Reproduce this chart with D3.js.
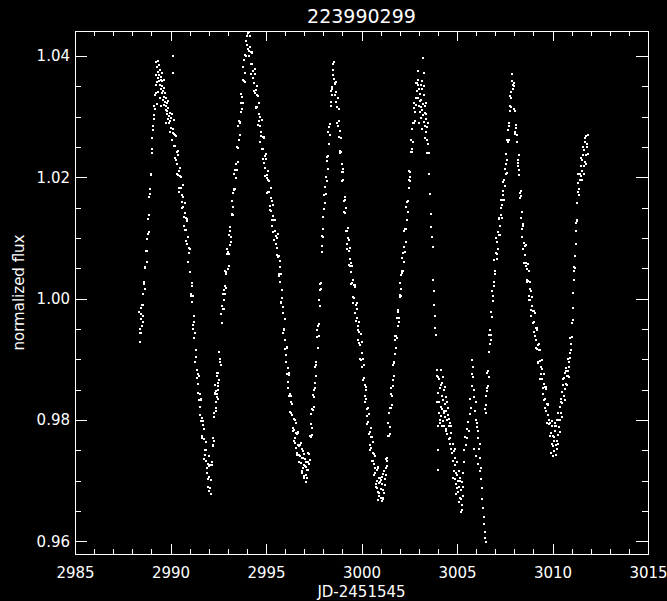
<!DOCTYPE html>
<html>
<head>
<meta charset="utf-8">
<script src="https://cdn.jsdelivr.net/npm/d3@7"></script>
<style>
  html, body { margin: 0; padding: 0; background: #000; }
  svg { display: block; }
</style>
</head>
<body>
<svg id="chart" width="667" height="601"></svg>
<script>
// Light curve of EPIC 223990299: [JD-2451545, normalized flux]
const cycle1 = [
  [2988.36,0.9978],[2988.38,0.9950],[2988.40,0.9943],[2988.42,0.9928],[2988.44,0.9966],[2988.46,0.9944],[2988.48,0.9975],[2988.50,0.9955],[2988.52,0.9989],[2988.54,0.9971],
  [2988.56,1.0008],[2988.58,0.9990],[2988.60,1.0024],[2988.63,1.0027],[2988.66,1.0052],[2988.69,1.0051],[2988.72,1.0078],[2988.75,1.0079],[2988.78,1.0099],[2988.81,1.0106],
  [2988.84,1.0131],[2988.87,1.0137],[2988.90,1.0168],[2988.93,1.0172],[2988.96,1.0203],[2988.99,1.0206],[2989.02,1.0240],[2989.05,1.0246],[2989.08,1.0278],[2989.10,1.0285],
  [2988.45,0.9985],[2988.55,0.9962],[2988.65,1.0015],[2988.75,1.0060],[2988.85,1.0110],[2988.95,1.0180],[2989.05,1.0265],
  [2989.12,1.0302],[2989.14,1.0318],[2989.16,1.0296],[2989.18,1.0335],[2989.20,1.0312],[2989.22,1.0352],[2989.24,1.0338],[2989.26,1.0368],[2989.28,1.0357],[2989.30,1.0381],
  [2989.32,1.0363],[2989.34,1.0392],[2989.36,1.0374],[2989.38,1.0359],[2989.40,1.0385],[2989.42,1.0368],[2989.44,1.0352],[2989.46,1.0377],[2989.48,1.0361],[2989.50,1.0345],
  [2989.52,1.0366],[2989.54,1.0351],[2989.56,1.0338],[2989.58,1.0359],[2989.60,1.0342],[2989.62,1.0328],[2989.64,1.0347],[2989.66,1.0333],[2989.68,1.0319],[2989.70,1.0338],
  [2989.72,1.0324],[2989.74,1.0311],[2989.76,1.0330],[2989.78,1.0317],[2989.80,1.0305],[2989.82,1.0322],[2989.84,1.0309],[2989.86,1.0296],[2989.88,1.0314],[2989.90,1.0301],
  [2989.93,1.0289],[2989.96,1.0306],[2989.99,1.0293],[2990.02,1.0281],[2990.05,1.0298],[2990.13,1.0400],[2990.14,1.0372],
  [2989.25,1.0390],[2989.33,1.0340],[2989.45,1.0330],[2989.55,1.0372],[2989.65,1.0360],[2989.75,1.0290],[2989.85,1.0325],[2989.95,1.0275],[2989.29,1.0320],[2989.51,1.0318],
  [2990.08,1.0305],[2990.11,1.0273],[2990.14,1.0279],[2990.17,1.0251],[2990.20,1.0271],[2990.23,1.0251],[2990.26,1.0269],[2990.29,1.0229],[2990.32,1.0241],[2990.35,1.0221],
  [2990.38,1.0236],[2990.41,1.0204],[2990.44,1.0210],[2990.47,1.0182],[2990.50,1.0202],[2990.53,1.0182],[2990.56,1.0200],[2990.59,1.0159],[2990.62,1.0171],[2990.65,1.0151],
  [2990.68,1.0167],[2990.71,1.0135],[2990.74,1.0141],[2990.77,1.0113],[2990.80,1.0133],[2990.83,1.0113],[2990.86,1.0131],[2990.89,1.0090],[2990.92,1.0102],[2990.95,1.0075],
  [2990.98,1.0083],[2991.01,1.0044],[2991.04,1.0043],[2991.07,1.0008],[2991.10,1.0021],[2991.13,0.9994],[2991.16,1.0005],[2991.19,0.9957],[2991.22,0.9962],[2991.25,0.9935],
  [2991.28,0.9943],[2991.31,0.9904],[2991.34,0.9903],[2991.37,0.9869],[2991.40,0.9882],[2991.43,0.9860],[2991.46,0.9876],[2991.49,0.9833],[2991.52,0.9843],[2991.55,0.9821],
  [2991.58,0.9833],[2991.61,0.9799],[2991.64,0.9803],[2991.67,0.9773],[2991.70,0.9791],[2991.73,0.9769],[2991.76,0.9785],[2991.79,0.9742],[2991.82,0.9751],[2991.85,0.9733],
  [2991.88,0.9750],[2991.91,0.9720],[2991.94,0.9728],[2991.97,0.9702],[2992.00,0.9724],[2992.03,0.9706],[2992.06,0.9726],[2992.09,0.9687],[2992.12,0.9701],
  [2991.95,0.9690],[2992.04,0.9683],[2992.10,0.9678],[2991.99,0.9741],
  [2990.10,1.0262],[2990.16,1.0295],[2990.22,1.0232],[2990.28,1.0268],[2990.34,1.0205],[2990.40,1.0244],[2990.46,1.0176],[2990.52,1.0215],[2990.58,1.0150],[2990.64,1.0187],
  [2990.70,1.0120],[2990.76,1.0158],[2990.82,1.0095],[2990.88,1.0128],[2990.94,1.0060],[2991.00,1.0082],[2991.06,1.0005],[2991.12,1.0026],[2991.18,0.9950],[2991.24,0.9972],
  [2991.30,0.9895],[2991.36,0.9915],[2991.42,0.9845],[2991.48,0.9872],[2991.54,0.9808],[2991.60,0.9835],[2991.66,0.9770],[2991.72,0.9798],[2991.78,0.9735],[2991.84,0.9763],
  [2991.90,0.9712]
];

const cycle2 = [
  [2992.15,0.9730],[2992.18,0.9725],[2992.21,0.9758],[2992.24,0.9757],[2992.27,0.9804],[2992.30,0.9811],[2992.33,0.9845],[2992.36,0.9819],[2992.39,0.9847],[2992.42,0.9842],
  [2992.45,0.9873],[2992.48,0.9856],[2992.51,0.9878],[2992.54,0.9865],[2992.57,0.9901],[2992.60,0.9896],[2992.66,0.9975],[2992.69,0.9959],[2992.72,0.9987],[2992.75,0.9983],
  [2992.78,1.0014],[2992.81,0.9998],[2992.84,1.0020],[2992.87,1.0008],[2992.90,1.0044],[2992.93,1.0040],[2992.96,1.0074],[2992.99,1.0049],[2993.02,1.0077],[2993.05,1.0073],
  [2993.08,1.0104],[2993.11,1.0088],[2993.14,1.0112],[2993.17,1.0102],[2993.20,1.0140],[2993.23,1.0138],[2993.26,1.0174],[2993.29,1.0151],[2993.32,1.0181],[2993.35,1.0179],
  [2993.38,1.0212],[2993.41,1.0198],[2993.44,1.0222],[2993.47,1.0212],[2993.50,1.0250],[2993.53,1.0248],[2993.56,1.0284],[2993.59,1.0261],[2993.62,1.0291],[2993.65,1.0289],
  [2993.68,1.0322],[2993.71,1.0308],[2993.74,1.0332],[2993.77,1.0322],[2993.80,1.0360],[2993.83,1.0358],[2993.86,1.0394],[2993.89,1.0371],[2993.92,1.0401],[2993.95,1.0399],
  [2993.98,1.0432],[2994.01,1.0418],
  [2992.34,0.9858],[2992.40,0.9829],[2992.44,0.9838],[2992.50,0.9861],[2992.47,0.9835],[2994.04,1.0438],[2994.06,1.0412],
  [2992.20,0.9770],[2992.26,0.9765],[2992.32,0.9843],[2992.38,0.9815],[2992.44,0.9878],[2992.50,0.9850],[2992.56,0.9912],[2992.62,0.9890],[2992.74,1.0008],[2992.80,0.9982],
  [2992.86,1.0046],[2992.92,1.0018],[2992.98,1.0082],[2993.04,1.0054],[2993.10,1.0118],[2993.16,1.0093],[2993.22,1.0161],[2993.28,1.0137],[2993.34,1.0205],[2993.40,1.0181],
  [2993.46,1.0249],[2993.52,1.0225],[2993.58,1.0293],[2993.64,1.0269],[2993.70,1.0337],[2993.76,1.0313],[2993.82,1.0381],[2993.88,1.0357],[2993.94,1.0425],
  [2994.10,1.0440],[2994.13,1.0408],[2994.16,1.0414],[2994.19,1.0386],[2994.22,1.0406],[2994.25,1.0386],[2994.28,1.0404],[2994.31,1.0363],[2994.34,1.0375],[2994.37,1.0355],
  [2994.40,1.0370],[2994.43,1.0338],[2994.46,1.0344],[2994.49,1.0316],[2994.52,1.0336],[2994.55,1.0316],[2994.58,1.0334],[2994.61,1.0293],[2994.64,1.0305],[2994.67,1.0285],
  [2994.70,1.0300],[2994.73,1.0268],[2994.76,1.0274],[2994.79,1.0246],[2994.82,1.0266],[2994.85,1.0246],[2994.88,1.0264],[2994.91,1.0223],[2994.94,1.0235],[2994.97,1.0215],
  [2995.00,1.0230],[2995.03,1.0198],[2995.06,1.0204],[2995.09,1.0176],[2995.12,1.0196],[2995.15,1.0176],[2995.18,1.0194],[2995.21,1.0153],[2995.24,1.0165],[2995.27,1.0145],
  [2995.30,1.0160],[2995.33,1.0129],[2995.36,1.0136],[2995.39,1.0109],[2995.42,1.0130],[2995.45,1.0111],[2995.48,1.0130],[2995.51,1.0090],[2995.54,1.0103],[2995.57,1.0084],
  [2995.60,1.0100],[2995.63,1.0069],[2995.66,1.0070],[2995.69,1.0037],[2995.72,1.0052],[2995.75,1.0027],[2995.78,1.0040],[2995.81,0.9994],[2995.84,1.0001],[2995.87,0.9976],
  [2995.90,0.9986],[2995.93,0.9949],[2995.96,0.9950],[2995.99,0.9917],[2996.02,0.9932],[2996.05,0.9907],[2996.08,0.9920],[2996.11,0.9876],[2996.14,0.9885],[2996.17,0.9862],
  [2996.20,0.9874],[2996.23,0.9839],[2996.26,0.9842],[2996.29,0.9812],[2996.32,0.9830],[2996.35,0.9808],[2996.38,0.9826],[2996.41,0.9787],[2996.44,0.9801],[2996.47,0.9783],
  [2996.50,0.9800],[2996.53,0.9770],[2996.56,0.9778],[2996.59,0.9753],[2996.62,0.9776],[2996.65,0.9759],[2996.68,0.9780],[2996.71,0.9742],[2996.74,0.9757],[2996.77,0.9740],
  [2996.80,0.9758],[2996.83,0.9729],[2996.86,0.9738],[2996.89,0.9713],[2996.92,0.9737],[2996.95,0.9721],[2996.98,0.9743],[2997.01,0.9707],[2997.04,0.9724],[2997.07,0.9709],
  [2997.10,0.9730],[2997.13,0.9704],[2997.16,0.9717],
  [2996.45,0.9765],[2996.60,0.9742],[2996.90,0.9752],[2997.00,0.9725],[2997.12,0.9722],
  [2994.11,1.0400],[2994.17,1.0432],[2994.23,1.0370],[2994.29,1.0406],[2994.35,1.0342],[2994.41,1.0378],[2994.47,1.0314],[2994.53,1.0350],[2994.59,1.0286],[2994.65,1.0322],
  [2994.71,1.0258],[2994.77,1.0294],[2994.83,1.0230],[2994.89,1.0266],[2994.95,1.0202],[2995.01,1.0238],[2995.07,1.0174],[2995.13,1.0210],[2995.19,1.0146],[2995.25,1.0182],
  [2995.31,1.0120],[2995.37,1.0154],[2995.43,1.0096],[2995.49,1.0130],[2995.55,1.0072],[2995.61,1.0106],[2995.67,1.0040],[2995.73,1.0062],[2995.79,0.9992],[2995.85,1.0014],
  [2995.91,0.9944],[2995.97,0.9966],[2996.03,0.9896],[2996.09,0.9918],[2996.15,0.9853],[2996.21,0.9878],[2996.27,0.9813],[2996.33,0.9840],[2996.39,0.9782],[2996.51,0.9762],
  [2996.57,0.9795],[2996.63,0.9746],[2996.69,0.9778],[2996.75,0.9730],[2996.81,0.9762],[2996.87,0.9716],[2996.93,0.9748],[2996.99,0.9705],[2997.05,0.9735],[2997.11,0.9698]
];

const cycle3 = [
  [2997.19,0.9731],[2997.22,0.9718],[2997.25,0.9743],[2997.28,0.9734],[2997.31,0.9773],[2997.34,0.9772],[2997.37,0.9809],[2997.40,0.9787],[2997.43,0.9818],[2997.46,0.9816],
  [2997.49,0.9850],[2997.52,0.9837],[2997.55,0.9861],[2997.58,0.9852],[2997.61,0.9891],[2997.64,0.9895],[2997.67,0.9937],[2997.70,0.9919],[2997.73,0.9955],[2997.76,0.9958],
  [2997.79,0.9997],[2997.82,0.9988],[2997.85,1.0024],[2997.88,1.0026],[2997.91,1.0076],[2997.94,1.0086],[2997.97,1.0134],[2998.00,1.0114],[2998.03,1.0147],[2998.06,1.0148],
  [2998.09,1.0184],[2998.12,1.0173],[2998.15,1.0200],[2998.18,1.0193],[2998.21,1.0234],[2998.24,1.0235],[2998.27,1.0274],[2998.30,1.0254],[2998.33,1.0287],[2998.36,1.0288],
  [2998.39,1.0324],[2998.42,1.0317],[2998.45,1.0348],[2998.48,1.0345],[2998.51,1.0387],[2998.53,1.0376],[2998.55,1.0362],[2998.49,1.0369],
  [2997.21,0.9745],[2997.27,0.9728],[2997.33,0.9793],[2997.39,0.9775],[2997.45,0.9841],[2997.51,0.9822],[2997.57,0.9887],[2997.63,0.9872],[2997.69,0.9948],[2997.75,0.9939],
  [2997.81,1.0014],[2997.87,1.0015],[2997.93,1.0103],[2997.99,1.0101],[2998.05,1.0171],[2998.11,1.0157],[2998.17,1.0227],[2998.23,1.0213],[2998.29,1.0283],[2998.35,1.0269],
  [2998.41,1.0342],[2998.47,1.0336],
  [2998.57,1.0390],[2998.60,1.0354],[2998.63,1.0356],[2998.66,1.0324],[2998.69,1.0340],[2998.72,1.0316],[2998.75,1.0330],[2998.78,1.0285],[2998.81,1.0292],[2998.84,1.0267],
  [2998.87,1.0277],[2998.90,1.0240],[2998.93,1.0241],[2998.96,1.0208],[2998.99,1.0222],[2999.02,1.0196],[2999.05,1.0208],[2999.08,1.0161],[2999.11,1.0167],[2999.14,1.0141],
  [2999.17,1.0150],[2999.20,1.0112],[2999.23,1.0112],[2999.26,1.0081],[2999.29,1.0100],[2999.32,1.0079],[2999.35,1.0096],[2999.38,1.0054],[2999.41,1.0065],[2999.44,1.0044],
  [2999.47,1.0058],[2999.50,1.0025],[2999.53,1.0031],[2999.56,1.0002],[2999.59,1.0022],[2999.62,1.0001],[2999.65,1.0019],[2999.68,0.9977],[2999.71,0.9989],[2999.74,0.9968],
  [2999.77,0.9982],[2999.80,0.9949],[2999.83,0.9954],[2999.86,0.9926],[2999.89,0.9945],[2999.92,0.9924],[2999.95,0.9941],[2999.98,0.9899],[3000.01,0.9910],[3000.04,0.9887],
  [3000.07,0.9900],[3000.10,0.9866],[3000.13,0.9869],[3000.16,0.9839],[3000.19,0.9857],[3000.22,0.9834],[3000.25,0.9850],[3000.28,0.9807],[3000.31,0.9818],[3000.34,0.9796],
  [3000.37,0.9809],[3000.40,0.9776],[3000.43,0.9780],[3000.46,0.9751],[3000.49,0.9772],[3000.52,0.9753],[3000.55,0.9772],[3000.58,0.9733],[3000.61,0.9746],[3000.64,0.9727],
  [3000.67,0.9743],[3000.70,0.9712],[3000.73,0.9721],[3000.76,0.9695],[3000.79,0.9718],[3000.82,0.9700],[3000.85,0.9720],[3000.88,0.9682],[3000.91,0.9696],[3000.94,0.9679],
  [3000.97,0.9697],[3001.00,0.9672],[3001.03,0.9686],[3001.06,0.9666],[3001.09,0.9695],[3001.12,0.9684],[3001.15,0.9711],[3001.18,0.9680],[3001.21,0.9702],[3001.24,0.9693],
  [3000.80,0.9688],[3000.92,0.9705],[3001.02,0.9701],[3001.10,0.9670],[3000.86,0.9668],
  [2998.62,1.0335],[2998.68,1.0357],[2998.74,1.0290],[2998.80,1.0313],[2998.86,1.0243],[2998.92,1.0265],[2998.98,1.0194],[2999.04,1.0214],[2999.10,1.0142],[2999.16,1.0162],
  [2999.22,1.0090],[2999.28,1.0116],[2999.34,1.0055],[2999.40,1.0084],[2999.46,1.0024],[2999.52,1.0053],[2999.58,0.9993],[2999.64,1.0022],[2999.70,0.9963],[2999.76,0.9992],
  [2999.82,0.9932],[2999.88,0.9961],[2999.94,0.9901],[3000.00,0.9929],[3000.06,0.9866],[3000.12,0.9891],[3000.18,0.9829],[3000.24,0.9854],[3000.30,0.9793],[3000.36,0.9819],
  [3000.42,0.9758],[3000.48,0.9787],[3000.54,0.9733],[3000.60,0.9763],[3000.66,0.9710],[3000.72,0.9741],[3000.78,0.9690],[3000.84,0.9722],[3000.90,0.9674],[3000.96,0.9704],
  [3001.08,0.9706],[3001.14,0.9671],[3001.20,0.9716]
];

const cycle4 = [
  [3001.27,0.9720],[3001.30,0.9710],[3001.33,0.9738],[3001.36,0.9732],[3001.39,0.9774],[3001.42,0.9774],[3001.45,0.9811],[3001.48,0.9789],[3001.51,0.9820],[3001.54,0.9819],
  [3001.57,0.9853],[3001.60,0.9840],[3001.63,0.9865],[3001.66,0.9856],[3001.69,0.9895],[3001.72,0.9894],[3001.75,0.9931],[3001.78,0.9908],[3001.81,0.9938],[3001.84,0.9935],
  [3001.87,0.9968],[3001.90,0.9954],[3001.93,0.9978],[3001.96,0.9968],[3001.99,1.0006],[3002.02,1.0003],[3002.05,1.0039],[3002.08,1.0015],[3002.11,1.0045],[3002.14,1.0042],
  [3002.17,1.0075],[3002.20,1.0060],[3002.23,1.0085],[3002.26,1.0076],[3002.29,1.0115],[3002.32,1.0114],[3002.35,1.0151],[3002.38,1.0129],[3002.41,1.0161],[3002.44,1.0161],
  [3002.47,1.0196],[3002.50,1.0183],[3002.53,1.0209],[3002.56,1.0201],[3002.59,1.0241],[3002.62,1.0241],[3002.65,1.0279],[3002.68,1.0258],[3002.71,1.0290],[3002.74,1.0290],
  [3002.77,1.0322],[3002.80,1.0307],[3002.83,1.0330],[3002.86,1.0319],[3002.89,1.0356],
  [3001.29,0.9736],[3001.35,0.9724],[3001.41,0.9795],[3001.47,0.9777],[3001.53,0.9843],[3001.59,0.9825],[3001.65,0.9891],[3001.71,0.9873],[3001.77,0.9938],[3001.83,0.9918],
  [3001.89,0.9981],[3001.95,0.9961],[3002.01,1.0025],[3002.07,1.0004],[3002.13,1.0067],[3002.19,1.0046],[3002.25,1.0111],[3002.31,1.0093],[3002.37,1.0159],[3002.43,1.0143],
  [3002.49,1.0210],[3002.55,1.0194],[3002.61,1.0262],[3002.67,1.0246],[3002.73,1.0314],[3002.79,1.0293],[3002.85,1.0355],
  [3002.92,1.0342],[3002.94,1.0361],[3002.96,1.0330],[3002.98,1.0352],[3003.00,1.0318],[3003.02,1.0345],[3003.04,1.0326],[3003.06,1.0308],[3003.08,1.0337],[3003.10,1.0315],
  [3003.12,1.0298],[3003.14,1.0328],[3003.16,1.0310],[3003.18,1.0345],[3003.20,1.0302],[3003.22,1.0397],[3003.24,1.0320],[3003.26,1.0291],[3003.28,1.0335],[3003.30,1.0306],
  [3003.32,1.0284],[3003.34,1.0318],[3003.36,1.0296],[3003.38,1.0275],[3003.40,1.0305],[3003.42,1.0283],[3003.44,1.0262],[3003.46,1.0290],[3003.48,1.0255],[3003.25,1.0372],
  [3003.19,1.0358],
  [3002.95,1.0375],[3003.03,1.0290],[3003.11,1.0352],[3003.17,1.0280],[3003.27,1.0350],[3003.33,1.0265],[3003.39,1.0322],[3003.45,1.0240]
];

const dip = [
  [3003.52,1.0240],[3003.56,1.0205],[3003.60,1.0172],[3003.63,1.0140],[3003.66,1.0118],[3003.69,1.0102],[3003.72,1.0085],[3003.75,1.0030],[3003.78,1.0012],[3003.81,0.9990],
  [3003.84,0.9971],[3003.87,0.9952],[3003.90,0.9940],[3003.93,0.9882],[3003.96,0.9872],[3003.97,0.9830],[3003.98,0.9790],[3003.99,0.9750],[3004.00,0.9718],
  [3004.02,0.9845],[3004.04,0.9812],[3004.06,0.9868],[3004.08,0.9830],[3004.10,0.9795],[3004.12,0.9852],[3004.14,0.9821],[3004.16,0.9883],[3004.18,0.9806],[3004.20,0.9840],
  [3004.22,0.9818],[3004.24,0.9861],[3004.26,0.9798],[3004.28,0.9832],[3004.30,0.9811],[3004.32,0.9849],[3004.34,0.9790],[3004.36,0.9826],[3004.38,0.9805],[3004.40,0.9838],
  [3004.42,0.9782],[3004.44,0.9815],[3004.46,0.9800],[3004.48,0.9829],[3004.50,0.9776],[3004.53,0.9808],[3004.56,0.9790],[3004.59,0.9768],[3004.62,0.9795],[3004.65,0.9770],
  [3004.68,0.9752],[3004.71,0.9779],[3004.74,0.9745],
  [3004.03,0.9870],[3004.09,0.9800],[3004.15,0.9858],[3004.21,0.9790],[3004.27,0.9870],[3004.33,0.9815],[3004.39,0.9855],[3004.45,0.9785],[3004.51,0.9820],[3004.57,0.9802],
  [3004.63,0.9760],[3004.69,0.9790],
  [3004.77,0.9760],[3004.80,0.9732],[3004.82,0.9748],[3004.85,0.9715],[3004.87,0.9738],[3004.90,0.9702],[3004.92,0.9725],[3004.95,0.9694],[3004.97,0.9712],[3005.00,0.9688],
  [3005.02,0.9730],[3005.05,0.9699],[3005.07,0.9681],[3005.10,0.9716],[3005.12,0.9690],[3005.15,0.9672],[3005.17,0.9705],[3005.20,0.9648],[3005.22,0.9684],[3005.25,0.9660],
  [3005.27,0.9698],[3005.30,0.9675],[3005.33,0.9712],[3005.36,0.9731],
  [3004.81,0.9705],[3004.88,0.9752],[3004.94,0.9678],[3005.01,0.9709],[3005.08,0.9665],[3005.14,0.9700],[3005.21,0.9670],[3005.28,0.9652],[3005.34,0.9690],
  [3005.38,0.9750],[3005.42,0.9772],[3005.46,0.9758],[3005.50,0.9785],[3005.54,0.9770],[3005.58,0.9796],[3005.62,0.9782],[3005.66,0.9810],[3005.70,0.9835],[3005.73,0.9820],
  [3005.76,0.9856],[3005.79,0.9875],[3005.81,0.9898],[3005.83,0.9870],[3005.86,0.9888],[3005.88,0.9850],[3005.91,0.9838],[3005.94,0.9815],[3005.97,0.9829],[3006.00,0.9800],
  [3006.03,0.9788],[3006.06,0.9795],[3006.09,0.9770],[3006.12,0.9782],[3006.15,0.9752],[3006.18,0.9760],[3006.21,0.9738],[3006.24,0.9720],[3006.27,0.9702],[3006.30,0.9688],
  [3006.33,0.9670],[3006.36,0.9655],[3006.39,0.9640],[3006.42,0.9628],[3006.45,0.9615],[3006.48,0.9605],[3006.50,0.9598],
  [3005.90,0.9752],[3006.00,0.9741],[3006.10,0.9728],[3006.20,0.9716]
];

const cycle5 = [
  [3006.47,0.9818],[3006.50,0.9839],[3006.53,0.9825],[3006.56,0.9852],[3006.59,0.9848],[3006.62,0.9880],[3006.65,0.9871],[3006.68,0.9912],[3006.71,0.9925],[3006.74,0.9948],
  [3006.77,0.9940],[3006.80,0.9978],[3006.83,0.9969],[3006.86,1.0005],[3006.89,0.9996],[3006.92,1.0028],[3006.95,1.0020],[3006.98,1.0046],[3007.01,1.0041],[3007.04,1.0075],
  [3007.07,1.0066],[3007.10,1.0094],[3007.13,1.0082],[3007.16,1.0109],[3007.19,1.0105],[3007.22,1.0131],[3007.25,1.0120],[3007.28,1.0150],[3007.31,1.0138],[3007.34,1.0162],
  [3007.37,1.0155],[3007.40,1.0178],[3007.43,1.0170],[3007.46,1.0195],[3007.49,1.0186],[3007.52,1.0214],[3007.55,1.0205],[3007.58,1.0238],[3007.61,1.0229],[3007.64,1.0261],
  [3007.67,1.0258],[3007.70,1.0290],[3007.73,1.0284],[3007.76,1.0318],[3007.79,1.0309],[3007.82,1.0340],[3007.85,1.0331],[3007.88,1.0358],[3007.91,1.0346],[3007.94,1.0352],
  [3006.52,0.9812],[3006.58,0.9878],[3006.64,0.9856],[3006.70,0.9940],[3006.76,0.9932],[3006.82,1.0012],[3006.88,0.9996],[3006.94,1.0064],[3007.00,1.0040],[3007.06,1.0100],
  [3007.12,1.0073],[3007.18,1.0133],[3007.24,1.0104],[3007.30,1.0162],[3007.36,1.0132],[3007.42,1.0192],[3007.48,1.0163],[3007.54,1.0222],[3007.60,1.0207],[3007.66,1.0278],
  [3007.72,1.0261],[3007.78,1.0334],[3007.84,1.0316],[3007.90,1.0370],
  [3007.97,1.0355],[3008.00,1.0313],[3008.03,1.0309],[3008.06,1.0271],[3008.09,1.0281],[3008.12,1.0258],[3008.15,1.0270],[3008.18,1.0223],[3008.21,1.0229],[3008.24,1.0203],
  [3008.27,1.0212],[3008.30,1.0174],[3008.33,1.0169],[3008.36,1.0132],[3008.39,1.0143],[3008.42,1.0114],[3008.45,1.0123],[3008.48,1.0081],[3008.51,1.0092],[3008.54,1.0072],
  [3008.57,1.0086],[3008.60,1.0053],[3008.63,1.0059],[3008.66,1.0030],[3008.69,1.0049],[3008.72,1.0029],[3008.75,1.0046],[3008.78,1.0004],[3008.81,1.0016],[3008.84,0.9997],
  [3008.87,1.0012],[3008.90,0.9981],[3008.93,0.9987],[3008.96,0.9960],[3008.99,0.9980],[3009.02,0.9961],[3009.05,0.9980],[3009.08,0.9939],[3009.11,0.9952],[3009.14,0.9932],
  [3009.17,0.9948],[3009.20,0.9917],[3009.23,0.9923],[3009.26,0.9896],[3009.29,0.9916],[3009.32,0.9897],[3009.35,0.9916],[3009.38,0.9875],[3009.41,0.9888],[3009.44,0.9868],
  [3009.47,0.9884],[3009.50,0.9853],[3009.53,0.9860],[3009.56,0.9833],[3009.59,0.9854],[3009.62,0.9835],[3009.65,0.9854],[3009.68,0.9814],[3009.71,0.9827],[3009.74,0.9808],
  [3009.77,0.9824],[3009.80,0.9793],[3009.83,0.9800],[3009.86,0.9773],[3009.89,0.9795],[3009.92,0.9778],[3009.95,0.9798],[3009.98,0.9760],[3010.01,0.9774],[3010.04,0.9757],
  [3007.99,1.0350],[3008.05,1.0274],[3008.11,1.0286],[3008.17,1.0219],[3008.23,1.0236],[3008.29,1.0166],[3008.35,1.0177],[3008.41,1.0101],[3008.47,1.0119],[3008.53,1.0059],
  [3008.59,1.0088],[3008.65,1.0028],[3008.71,1.0057],[3008.77,0.9998],[3008.83,1.0028],[3008.89,0.9971],[3008.95,1.0002],[3009.01,0.9945],[3009.07,0.9976],[3009.13,0.9919],
  [3009.19,0.9951],[3009.25,0.9894],[3009.31,0.9925],[3009.37,0.9868],[3009.43,0.9899],[3009.49,0.9843],[3009.55,0.9875],[3009.61,0.9819],[3009.67,0.9851],[3009.73,0.9795],
  [3009.79,0.9827],
  [3010.07,0.9772],[3010.10,0.9748],[3010.13,0.9781],[3010.16,0.9759],[3010.19,0.9790],[3010.22,0.9766],[3010.25,0.9800],[3010.28,0.9775],[3010.31,0.9812],[3010.34,0.9788],
  [3010.37,0.9822],[3010.40,0.9800],[3010.43,0.9835],[3010.46,0.9812],[3010.49,0.9846],[3010.52,0.9828],[3010.55,0.9858],[3010.58,0.9840],[3010.61,0.9869],[3010.64,0.9851],
  [3010.67,0.9878],[3010.70,0.9860],[3010.73,0.9885],[3010.76,0.9872],[3010.79,0.9880],[3010.82,0.9872],[3010.85,0.9895],[3010.88,0.9888],[3010.91,0.9910],[3010.94,0.9902],
  [3010.97,0.9925],[3011.00,0.9936],[3011.03,0.9960],[3011.06,0.9985],[3011.09,1.0010],[3011.12,1.0030],[3011.15,1.0052],[3011.18,1.0070],[3011.21,1.0090],[3011.24,1.0112],
  [3011.27,1.0130],[3011.30,1.0158],[3011.33,1.0175],[3011.36,1.0190],[3011.39,1.0181],[3011.42,1.0205],[3011.45,1.0196],[3011.48,1.0218],[3011.51,1.0202],[3011.54,1.0228],
  [3011.57,1.0210],[3011.60,1.0236],[3011.63,1.0219],[3011.66,1.0245],[3011.69,1.0225],[3011.72,1.0258],[3011.75,1.0236],[3011.78,1.0268],[3011.81,1.0250],[3011.84,1.0270],
  [3009.90,0.9745],[3009.97,0.9790],[3010.03,0.9740],[3010.12,0.9795],[3010.20,0.9742],[3010.30,0.9760],
  [3010.09,0.9765],[3010.15,0.9790],[3010.24,0.9752],[3010.33,0.9800],[3010.39,0.9780],[3010.45,0.9830],[3010.51,0.9805],[3010.57,0.9868],[3010.63,0.9832],[3010.69,0.9880],
  [3010.75,0.9858],[3010.81,0.9900],[3010.87,0.9870],[3010.93,0.9935],[3010.99,0.9915],[3011.05,0.9965],[3011.11,1.0045],[3011.17,1.0050],[3011.23,1.0125],[3011.29,1.0128],
  [3011.35,1.0205],[3011.41,1.0170],[3011.47,1.0232],[3011.53,1.0195],[3011.59,1.0250],[3011.65,1.0206],[3011.71,1.0265],[3011.77,1.0222],[3011.83,1.0255],[3011.86,1.0238]
];

const xMajorTicks = [2985, 2990, 2995, 3000, 3005, 3010, 3015];
const yMajorTicks = [0.96, 0.98, 1.00, 1.02, 1.04];
const titleText = "223990299";
const xTitle = "JD-2451545";
const yTitle = "normalized flux";

const series = [...cycle1, ...cycle2, ...cycle3, ...cycle4, ...dip, ...cycle5];

const W = 667, H = 601;
const frame = { left: 75, right: 648, top: 31, bottom: 554 };
const font = "DejaVu Sans, sans-serif";
const fg = "#ffffff";

const x = d3.scaleLinear().domain([2985, 3015]).range([frame.left, frame.right]);
const y = d3.scaleLinear().domain([0.9579, 1.0441]).range([frame.bottom, frame.top]);

const xMinorTicks = d3.range(2985, 3016, 1).filter(v => v % 5 !== 0);
const yMinorTicks = d3.range(0, 17).map(i => +(0.96 + i * 0.005).toFixed(3))
  .filter(v => !yMajorTicks.some(m => Math.abs(m - v) < 1e-9));

const svg = d3.select("#chart");
svg.append("rect").attr("width", W).attr("height", H).attr("fill", "#000");

function styleAxis(g) {
  g.select(".domain").remove();
  g.selectAll("line").attr("stroke", fg).attr("stroke-width", 1).attr("shape-rendering", "crispEdges");
  g.selectAll("text").attr("fill", fg).attr("font-family", font).attr("font-size", 15);
}

// bottom axis: labelled major ticks plus minor ticks, all pointing inward
svg.append("g").attr("transform", `translate(0,${frame.bottom})`)
  .call(d3.axisBottom(x).tickValues(xMajorTicks).tickSize(-10).tickPadding(13).tickFormat(d3.format("d")))
  .call(styleAxis);
svg.append("g").attr("transform", `translate(0,${frame.bottom})`)
  .call(d3.axisBottom(x).tickValues(xMinorTicks).tickSize(-5).tickFormat(""))
  .call(styleAxis);
// top axis mirrors the bottom ticks without labels
svg.append("g").attr("transform", `translate(0,${frame.top})`)
  .call(d3.axisTop(x).tickValues(xMajorTicks).tickSize(-10).tickFormat(""))
  .call(styleAxis);
svg.append("g").attr("transform", `translate(0,${frame.top})`)
  .call(d3.axisTop(x).tickValues(xMinorTicks).tickSize(-5).tickFormat(""))
  .call(styleAxis);

// left axis with labels, right axis mirrored
svg.append("g").attr("transform", `translate(${frame.left},0)`)
  .call(d3.axisLeft(y).tickValues(yMajorTicks).tickSize(-12).tickPadding(5).tickFormat(d3.format(".2f")))
  .call(styleAxis);
svg.append("g").attr("transform", `translate(${frame.left},0)`)
  .call(d3.axisLeft(y).tickValues(yMinorTicks).tickSize(-6).tickFormat(""))
  .call(styleAxis);
svg.append("g").attr("transform", `translate(${frame.right},0)`)
  .call(d3.axisRight(y).tickValues(yMajorTicks).tickSize(-12).tickFormat(""))
  .call(styleAxis);
svg.append("g").attr("transform", `translate(${frame.right},0)`)
  .call(d3.axisRight(y).tickValues(yMinorTicks).tickSize(-6).tickFormat(""))
  .call(styleAxis);

// plot frame
svg.append("rect")
  .attr("x", frame.left + 0.5).attr("y", frame.top + 0.5)
  .attr("width", frame.right - frame.left).attr("height", frame.bottom - frame.top)
  .attr("fill", "none").attr("stroke", fg).attr("stroke-width", 1)
  .attr("shape-rendering", "crispEdges");

// photometric points
svg.append("g").selectAll("rect")
  .data(series)
  .join("rect")
  .attr("x", d => Math.round(x(d[0])) - 1)
  .attr("y", d => Math.round(y(d[1])) - 1)
  .attr("width", 2).attr("height", 2)
  .attr("fill", fg)
  .attr("shape-rendering", "crispEdges");

// titles
svg.append("text")
  .attr("x", (frame.left + frame.right) / 2).attr("y", 23)
  .attr("text-anchor", "middle").attr("fill", fg)
  .attr("font-family", font).attr("font-size", 19)
  .text(titleText);

svg.append("text")
  .attr("x", (frame.left + frame.right) / 2).attr("y", 597)
  .attr("text-anchor", "middle").attr("fill", fg)
  .attr("font-family", font).attr("font-size", 15)
  .text(xTitle);

svg.append("text")
  .attr("transform", `translate(24,${(frame.top + frame.bottom) / 2}) rotate(-90)`)
  .attr("text-anchor", "middle").attr("fill", fg)
  .attr("font-family", font).attr("font-size", 15)
  .text(yTitle);
</script>
</body>
</html>
